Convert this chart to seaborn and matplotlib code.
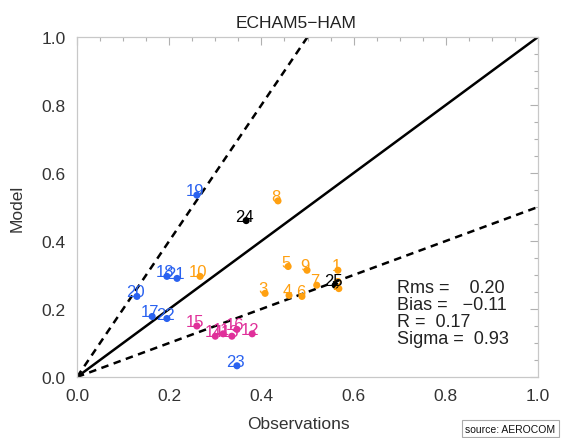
import matplotlib
matplotlib.use("Agg")
import matplotlib.pyplot as plt
import seaborn as sns
import pandas as pd
import numpy as np
from matplotlib.ticker import MultipleLocator

# ---- data ----
labels = ["1", "2", "3", "4", "5", "6", "7", "8", "9", "10",
          "11", "12", "13", "14", "15", "16",
          "17", "18", "19", "20", "21", "22", "23",
          "24", "25"]
obs = [0.566, 0.568, 0.408, 0.460, 0.458, 0.488, 0.520, 0.436, 0.499, 0.267,
       0.317, 0.380, 0.336, 0.300, 0.260, 0.347,
       0.163, 0.195, 0.260, 0.130, 0.217, 0.195, 0.347,
       0.367, 0.560]
model = [0.314, 0.260, 0.246, 0.240, 0.325, 0.237, 0.270, 0.518, 0.314, 0.296,
         0.127, 0.127, 0.120, 0.120, 0.150, 0.140,
         0.178, 0.296, 0.535, 0.237, 0.290, 0.172, 0.033,
         0.460, 0.270]
groups = (["orange"] * 10 + ["magenta"] * 6 + ["blue"] * 7 + ["black"] * 2)

title = "ECHAM5\u2212HAM"
xlabel = "Observations"
ylabel = "Model"
stats_lines = ["Rms =    0.20", "Bias =   \u22120.11", "R =  0.17", "Sigma =  0.93"]
ticks = [0.0, 0.2, 0.4, 0.6, 0.8, 1.0]
tick_labels = ["0.0", "0.2", "0.4", "0.6", "0.8", "1.0"]

palette = {"orange": "#FFA010", "magenta": "#E0309A", "blue": "#2A62F0", "black": "#000000"}

df = pd.DataFrame({"obs": obs, "model": model, "label": labels, "group": groups})

sns.set_theme(style="white")
plt.rcParams["font.family"] = ["Liberation Sans", "DejaVu Sans"]

fig = plt.figure(figsize=(5.64, 4.39), dpi=100)
ax = fig.add_axes([77 / 564, 1 - 378 / 439, (538 - 77) / 564, (378 - 38) / 439])

line_x = np.array([0.0, 1.0])
ax.plot(line_x, line_x, color="black", lw=1.8, zorder=2)
ax.plot(line_x, 2 * line_x, color="black", lw=1.8, ls=(0, (3, 2.2)), zorder=2)
ax.plot(line_x, 0.5 * line_x, color="black", lw=1.8, ls=(0, (3, 2.2)), zorder=2)

sns.scatterplot(data=df, x="obs", y="model", hue="group", palette=palette,
                s=26, edgecolor="none", legend=False, ax=ax, zorder=3)

for _, r in df.iterrows():
    ax.annotate(r["label"], (r["obs"], r["model"]), xytext=(-1.2, 0),
                textcoords="offset points", ha="center", va="baseline",
                fontsize=12, color=palette[r["group"]], zorder=4)

ax.set_xlim(0, 1)
ax.set_ylim(0, 1)
ax.set_xticks(ticks)
ax.set_xticklabels(tick_labels)
ax.set_yticks(ticks)
ax.set_yticklabels(tick_labels)
ax.xaxis.set_minor_locator(MultipleLocator(0.05))
ax.yaxis.set_minor_locator(MultipleLocator(0.05))
ax.tick_params(which="both", direction="in", top=True, right=True,
               color="#b0b0b0", labelsize=12.5, labelcolor="#333333")
ax.tick_params(which="major", length=6, width=0.8, pad=8)
ax.tick_params(which="minor", length=3, width=0.8)
for s in ax.spines.values():
    s.set_color("#c8c8c8")
    s.set_linewidth(0.9)

ax.set_title(title, fontsize=12.5, color="#222222", pad=7, x=0.475)
ax.set_xlabel(xlabel, fontsize=12.5, color="#333333", labelpad=3)
ax.xaxis.set_label_coords(0.48, -0.115)
ax.set_ylabel(ylabel, fontsize=12.5, color="#333333", labelpad=12)

ax.text(0.695, 0.287, "\n".join(stats_lines), fontsize=13, color="#222222",
        va="top", ha="left", linespacing=1.0, transform=ax.transData)

fig.text(0.985, 0.010, "source: AEROCOM", fontsize=7.5, ha="right", va="bottom",
         color="#111111",
         bbox=dict(boxstyle="square,pad=0.3", fc="white", ec="#aaaaaa", lw=0.8))

fig.savefig("out.png", dpi=100)
